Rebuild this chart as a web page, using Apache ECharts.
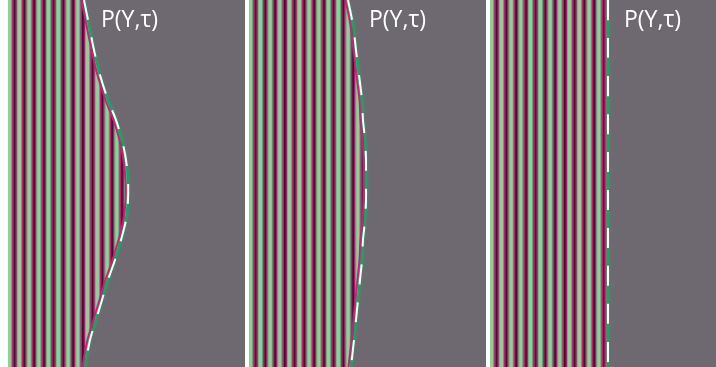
<!DOCTYPE html>
<html>
<head>
<meta charset="utf-8">
<script src="https://cdn.jsdelivr.net/npm/echarts@6/dist/echarts.min.js"></script>
<style>
  html, body { margin: 0; padding: 0; background: #fff; }
  #chart { width: 716px; height: 367px; }
</style>
</head>
<body>
<div id="chart"></div>
<script>
// Y positions (from top) where the boundary P(Y,τ) is sampled
const ySamples = [0, 25, 50, 75, 100, 120, 140, 160, 180, 200, 220, 240, 260, 280, 300, 320, 340, 367]
// boundary position for each panel, measured from the panel's first fringe
const boundary1 = [75, 80, 85, 91, 99, 107, 113, 117, 119, 119, 117, 112, 106, 99, 93, 87, 81, 76]
const boundary2 = [98, 103, 106, 109, 112, 113, 115, 116, 116, 116, 115, 113, 112, 110, 108, 106, 104, 101]
const boundary3 = [117, 117, 117, 117, 117, 117, 117, 117, 117, 117, 117, 117, 117, 117, 117, 117, 117, 117]
const panelLabels = ['P(Y,τ)', 'P(Y,τ)', 'P(Y,τ)']
const fringeCount = 13

const Y_MAX = 367
const FRINGE_PERIOD = 9.75
const GRAY = '#6e6971'
// one fringe: bands of colour with their widths (px)
const fringeBands = [
  { w: 3.25, color: '#8dd09b' },
  { w: 1, color: '#5aa673' },
  { w: 1.5, color: '#c41a6e' },
  { w: 1.75, color: '#4f0b33' },
  { w: 1.25, color: '#a91e66' },
  { w: 1, color: '#7aa982' }
]

const panels = [
  { left: 8, width: 237, boundary: boundary1, labelLeft: 101 },
  { left: 249, width: 237, boundary: boundary2, labelLeft: 369 },
  { left: 490, width: 226, boundary: boundary3, labelLeft: 624 }
]

function fringeSeries (idx, boundary, width) {
  return {
    type: 'custom',
    xAxisIndex: idx,
    yAxisIndex: idx,
    silent: true,
    data: [0],
    renderItem (params, api) {
      const children = []
      const top = api.coord([0, 0])[1]
      const bottom = api.coord([0, Y_MAX])[1]
      for (let k = 0; k < fringeCount; k++) {
        let x = k * FRINGE_PERIOD
        fringeBands.forEach(b => {
          const a = api.coord([x, 0])[0]
          const c = api.coord([x + b.w, 0])[0]
          children.push({
            type: 'rect',
            shape: { x: a, y: top, width: c - a + 0.3, height: bottom - top },
            style: { fill: b.color }
          })
          x += b.w
        })
      }
      const edge = ySamples.map((y, i) => api.coord([boundary[i], y]))
      const right = api.coord([width, 0])[0]
      const poly = edge.map(p => [p[0] + 1.5, p[1]])
      poly.push([right, bottom], [right, top])
      children.push({ type: 'polygon', shape: { points: poly }, style: { fill: GRAY } })
      children.push({
        type: 'polyline',
        shape: { points: edge.map(p => [p[0] - 1.5, p[1]]), smooth: 0.3 },
        style: { stroke: '#d0187a', lineWidth: 2, fill: null }
      })
      children.push({
        type: 'polyline',
        shape: { points: edge.map(p => [p[0] + 1, p[1]]), smooth: 0.3 },
        style: { stroke: '#22a064', lineWidth: 2.5, fill: null, shadowBlur: 3, shadowColor: 'rgba(60,160,110,0.6)' }
      })
      children.push({
        type: 'polyline',
        shape: { points: edge.map(p => [p[0] + 1, p[1]]), smooth: 0.3 },
        style: { stroke: '#ffffff', lineWidth: 2, fill: null, lineDash: [20, 18] }
      })
      return { type: 'group', children }
    }
  }
}

const chart = echarts.init(document.getElementById('chart'))
chart.setOption({
  backgroundColor: '#ffffff',
  animation: false,
  title: panels.map((p, i) => ({
    text: panelLabels[i],
    left: p.labelLeft,
    top: 9,
    padding: 0,
    textStyle: { color: '#ffffff', fontFamily: 'Open Sans', fontSize: 23, fontWeight: 'normal' }
  })),
  grid: panels.map(p => ({ left: p.left, width: p.width, top: 0, height: Y_MAX, show: true, backgroundColor: GRAY, borderWidth: 0 })),
  xAxis: panels.map((p, i) => ({ type: 'value', gridIndex: i, min: 0, max: p.width, show: false })),
  yAxis: panels.map((p, i) => ({ type: 'value', gridIndex: i, min: 0, max: Y_MAX, inverse: true, show: false })),
  series: panels.map((p, i) => fringeSeries(i, p.boundary, p.width))
})
</script>
</body>
</html>
